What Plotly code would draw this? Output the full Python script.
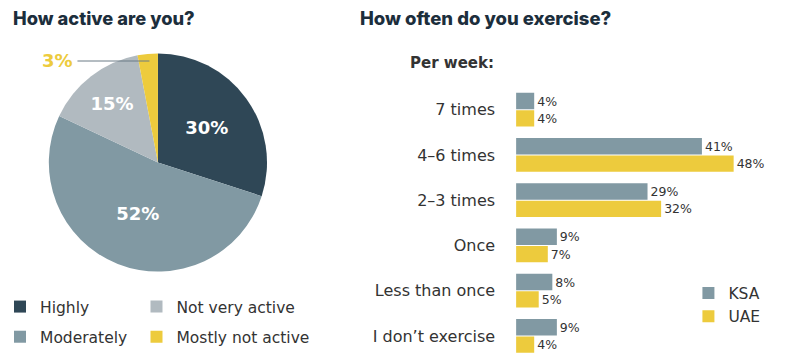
import plotly.graph_objects as go

# ---- Data ----
pie_labels = ["Highly", "Moderately", "Not very active", "Mostly not active"]
pie_values = [30, 52, 15, 3]
pie_colors = ["#2F4756", "#8199A3", "#B1BAC0", "#EDCB3D"]

categories = ["7 times", "4\u20136 times", "2\u20133 times", "Once", "Less than once", "I don\u2019t exercise"]
ksa = [4, 41, 29, 9, 8, 9]
uae = [4, 48, 32, 7, 5, 4]
bar_series = ["KSA", "UAE"]
bar_colors = ["#8199A3", "#EDCB3D"]

W, H = 800, 364
def px(x): return x / W
def py(y): return (H - y) / H

BODY = "DejaVu Sans"
TITLE = "Inter"
TXT = "#333333"

fig = go.Figure()

# Pie
fig.add_trace(go.Pie(
    labels=pie_labels, values=pie_values, sort=False, direction="clockwise", rotation=0,
    marker=dict(colors=pie_colors, line=dict(width=0)),
    texttemplate="%{value}%",
    textposition=["inside", "inside", "inside", "none"],
    insidetextorientation="horizontal",
    textfont=dict(family=BODY, size=18, color="white", weight=700),
    domain=dict(x=[px(46), px(265)], y=[py(272), py(53)]),
    showlegend=False, hoverinfo="label+percent",
))

# Bars
for name, vals, col in zip(bar_series, [ksa, uae], bar_colors):
    fig.add_trace(go.Bar(
        name=name, y=categories, x=vals, orientation="h",
        marker=dict(color=col, line=dict(width=0)),
        texttemplate="%{x}%", textposition="outside", cliponaxis=False,
        textfont=dict(family=BODY, size=12.5, color=TXT),
        xaxis="x", yaxis="y", legend="legend3",
    ))

# Pie legend entries (two columns)
col1 = [0, 1]
col2 = [2, 3]
for leg, idxs in (("legend", col1), ("legend2", col2)):
    for i in idxs:
        fig.add_trace(go.Bar(
            name=pie_labels[i], x=[None], y=[None], marker=dict(color=pie_colors[i], line=dict(width=0)),
            xaxis="x2", yaxis="y2", legend=leg, legendgroup=pie_labels[i], hoverinfo="skip",
        ))

fig.update_layout(
    width=W, height=H, margin=dict(l=0, r=0, t=0, b=0),
    paper_bgcolor="white", plot_bgcolor="white",
    barmode="group", bargap=0.23, bargroupgap=0.06,
    font=dict(family=BODY, color=TXT),
    xaxis=dict(domain=[px(515), px(788)], range=[0, 60], visible=False, fixedrange=True),
    yaxis=dict(domain=[py(358.6), py(87.1)], type="category", categoryorder="array",
               categoryarray=categories, autorange="reversed", showgrid=False, zeroline=False,
               showline=False, ticks="", ticklabelstandoff=20,
               tickfont=dict(family=BODY, size=16, color=TXT)),
    xaxis2=dict(domain=[0, 0.01], visible=False),
    yaxis2=dict(domain=[0, 0.01], visible=False, anchor="x2"),
    legend=dict(x=px(-3), y=py(322), xanchor="left", yanchor="middle", orientation="v",
                traceorder="grouped", tracegroupgap=7, font=dict(family=BODY, size=15.5, color=TXT),
                bgcolor="rgba(0,0,0,0)", itemclick=False),
    legend2=dict(x=px(134), y=py(322), xanchor="left", yanchor="middle", orientation="v",
                 traceorder="grouped", tracegroupgap=7, font=dict(family=BODY, size=15.5, color=TXT),
                 bgcolor="rgba(0,0,0,0)", itemclick=False),
    legend3=dict(x=px(688), y=py(305), xanchor="left", yanchor="middle", orientation="v",
                 font=dict(family=BODY, size=15.5, color=TXT), bgcolor="rgba(0,0,0,0)", itemclick=False),
    annotations=[
        dict(text="How active are you?", x=px(8), y=py(18), xref="paper", yref="paper",
             xanchor="left", yanchor="middle", showarrow=False,
             font=dict(family=TITLE, size=18.3, color="#1C2E3C", weight=800)),
        dict(text="How often do you exercise?", x=px(356), y=py(18), xref="paper", yref="paper",
             xanchor="left", yanchor="middle", showarrow=False,
             font=dict(family=TITLE, size=18.5, color="#1C2E3C", weight=800)),
        dict(text="Per week:", x=px(495), y=py(63), xref="paper", yref="paper",
             xanchor="right", yanchor="middle", showarrow=False,
             font=dict(family=BODY, size=15, color=TXT, weight=700)),
        dict(text="3%", x=px(147), y=py(61), xref="paper", yref="paper",
             showarrow=True, arrowhead=0, arrowwidth=1, arrowcolor="#6B7B85",
             ax=-92, ay=0, startstandoff=0, borderpad=4,
             font=dict(family=BODY, size=18, color="#EDCB3D", weight=700)),
    ],
)

fig.write_html("out.html", post_script="document.body.style.margin='0';",
               config={"displayModeBar": False})
